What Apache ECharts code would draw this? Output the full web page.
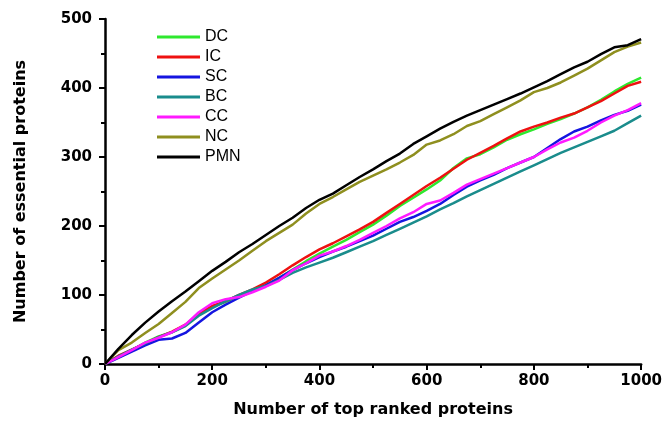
<!DOCTYPE html>
<html>
<head>
<meta charset="utf-8">
<script src="https://cdn.jsdelivr.net/npm/echarts@6/dist/echarts.min.js"></script>
<style>
html,body{margin:0;padding:0;background:#fff;}
#c{width:665px;height:424px;}
</style>
</head>
<body>
<div id="c"></div>
<script>
// x positions: number of top ranked proteins (step 25)
const xValues = [0,25,50,75,100,125,150,175,200,225,250,275,300,325,350,375,400,425,450,475,500,525,550,575,600,625,650,675,700,725,750,775,800,825,850,875,900,925,950,975,1000];
const xTicks = [0,200,400,600,800,1000];
const yTicks = [0,100,200,300,400,500];

const DC  = [0,11,20,31,40,46,56,72,83,90,99,107,114,125,137,149,160,170,180,191,202,215,229,241,253,266,284,298,304,314,325,333,340,348,355,363,372,383,395,406,415];
const IC  = [0,12,21,30,39,47,57,73,84,91,100,108,118,130,143,155,166,175,185,195,206,219,232,245,258,270,283,296,306,316,327,337,344,350,357,363,372,381,392,403,409];
const SC  = [0,9,18,27,35,37,45,60,75,86,96,106,114,125,136,146,155,163,170,178,186,196,206,213,222,232,245,257,266,274,284,292,300,313,326,337,344,353,361,367,376];
const BC  = [0,11,21,30,39,46,55,70,81,91,100,108,113,122,132,140,147,154,162,170,178,187,196,205,214,224,233,243,252,261,270,279,288,297,306,314,322,330,338,349,360];
const CC  = [0,10,20,31,38,46,57,75,88,94,97,104,112,121,136,146,157,163,171,180,190,200,211,220,232,237,248,260,268,276,284,292,300,311,321,328,338,350,360,368,378];
const NC  = [0,20,31,45,58,74,90,110,124,137,150,164,178,190,202,218,232,242,253,264,273,282,292,303,318,324,333,345,352,362,372,382,394,400,408,418,428,440,452,460,466];
const PMN = [0,22,42,60,76,91,105,120,135,148,162,174,187,200,212,226,238,247,259,271,282,294,305,319,330,341,351,360,368,376,384,392,401,410,420,430,438,449,459,462,471];

const seriesNames = ['DC','IC','SC','BC','CC','NC','PMN'];
const seriesData = [DC, IC, SC, BC, CC, NC, PMN];
const colors = ['#2ee82e','#ee1111','#1515e0','#1a8c8c','#ff1aff','#8f8f1f','#000000'];

const chart = echarts.init(document.getElementById('c'), null, {renderer:'canvas'});
const axisFont = {fontFamily:'DejaVu Sans', fontWeight:'bold', fontSize:15, color:'#000'};
const nameFont = {fontFamily:'DejaVu Sans', fontWeight:'bold', fontSize:16, color:'#000'};

chart.setOption({
  animation:false,
  backgroundColor:'#fff',
  grid:{left:105, right:23, top:19, bottom:60, containLabel:false},
  legend:{
    orient:'vertical', left:157, top:29, padding:0,
    icon:'rect', itemWidth:43, itemHeight:3, itemGap:4,
    textStyle:{fontFamily:'Liberation Sans', fontSize:16, lineHeight:16, color:'#000'},
    data: seriesNames
  },
  xAxis:{
    type:'value', min:0, max:1000, interval:200,
    name:'Number of top ranked proteins', nameLocation:'middle', nameGap:38,
    nameTextStyle:nameFont,
    axisLine:{show:true, onZero:false, lineStyle:{color:'#000', width:2.5}},
    axisTick:{show:true, inside:false, length:6, lineStyle:{color:'#000', width:2}},
    minorTick:{show:true, splitNumber:2, length:4, lineStyle:{color:'#000', width:2}},
    splitLine:{show:false},
    axisLabel:Object.assign({margin:10, formatter:v=> xTicks.includes(v)? String(v):''}, axisFont)
  },
  yAxis:{
    type:'value', min:0, max:500, interval:100,
    name:'Number of essential proteins', nameLocation:'middle', nameGap:76,
    nameTextStyle:nameFont,
    axisLine:{show:true, onZero:false, lineStyle:{color:'#000', width:2.5}},
    axisTick:{show:true, inside:false, length:6, lineStyle:{color:'#000', width:2}},
    minorTick:{show:true, splitNumber:2, length:4, lineStyle:{color:'#000', width:2}},
    splitLine:{show:false},
    axisLabel:Object.assign({margin:13, formatter:v=> yTicks.includes(v)? String(v):''}, axisFont)
  },
  series: seriesNames.map((n,i)=>({
    name:n, type:'line', symbol:'none', showSymbol:false,
    color:colors[i],
    lineStyle:{width:2.5, color:colors[i]},
    data: xValues.map((x,j)=>[x, seriesData[i][j]])
  }))
});
</script>
</body>
</html>
